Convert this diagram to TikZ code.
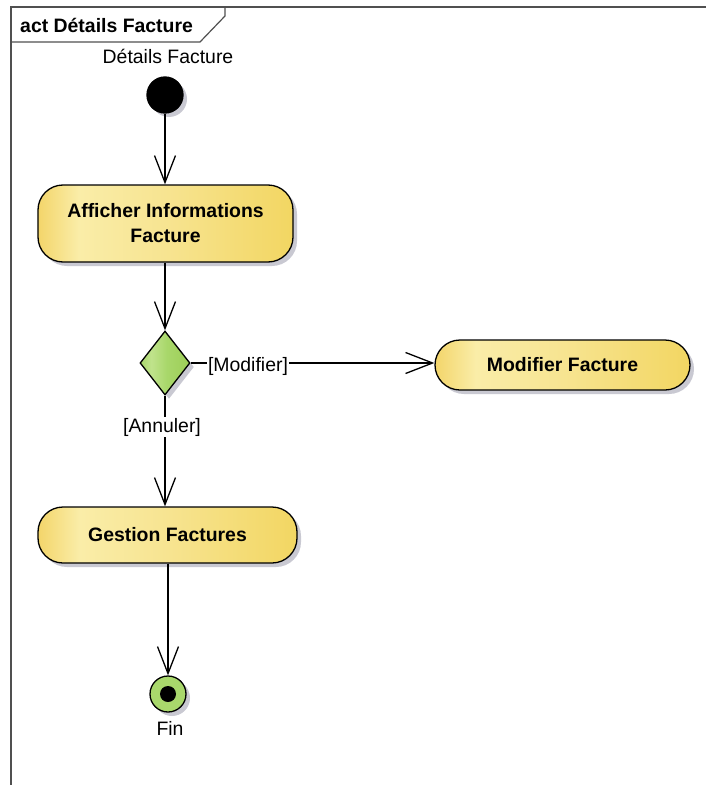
\documentclass[tikz,border=0pt]{standalone}
\usepackage{fontspec}
\setmainfont{Liberation Sans}
\usetikzlibrary{arrows.meta,shapes.geometric,shadows}

\definecolor{frameline}{HTML}{505050}
\definecolor{actEdge}{HTML}{F3D56A}
\definecolor{actLight}{HTML}{FAEDA8}
\definecolor{actMid}{HTML}{F7E491}
\definecolor{actRight}{HTML}{F2D662}
\definecolor{decLight}{HTML}{C0E38C}
\definecolor{decEdge}{HTML}{A8D76A}
\definecolor{decRight}{HTML}{9DCE57}
\definecolor{finGreen}{HTML}{A9D86C}
\definecolor{shadowgray}{HTML}{C9C9D2}

\pgfdeclarehorizontalshading{actionfill}{100bp}{color(0bp)=(actEdge); color(25bp)=(actEdge); color(33bp)=(actLight); color(50bp)=(actMid); color(75bp)=(actRight); color(100bp)=(actRight)}
\pgfdeclarehorizontalshading{decisionfill}{100bp}{color(0bp)=(decEdge); color(25bp)=(decEdge); color(36bp)=(decLight); color(52bp)=(decEdge); color(75bp)=(decRight); color(100bp)=(decRight)}

\newcommand\diafont{\fontsize{19.5}{25}\selectfont}

\begin{document}
\begin{tikzpicture}[x=1bp,y=-1bp,
  every node/.style={font=\diafont, inner sep=0pt},
  softshadow/.style={drop shadow={shadow xshift=4bp, shadow yshift=-4bp, fill=shadowgray, opacity=1}},
  action/.style={draw, line width=1.3bp, rounded corners=25bp, shading=actionfill,
    softshadow, font=\diafont\bfseries, align=center},
  decision/.style={diamond, draw, line width=1.3bp, shading=decisionfill, softshadow,
    minimum width=50bp, minimum height=64bp},
  initial/.style={circle, fill=black, draw=black, line width=1.3bp, softshadow, minimum size=36bp},
  final/.style={circle, fill=finGreen, draw=black, line width=1.3bp, softshadow, minimum size=36bp},
  flow/.style={draw=black, line width=1.3bp, -{Straight Barb[length=27bp, width=21bp, line width=1.3bp]}},
  guard/.style={fill=white, inner sep=1bp}
]
\useasboundingbox (0,0) rectangle (706,785);

% frame with its name tab
\draw[frameline, line width=1.2bp] (11,785) -- (11,7) -- (706,7);
\draw[frameline, line width=1.2bp] (11,42) -- (200,42) -- (225,16) -- (225,7);
\node[anchor=west, font=\diafont\bfseries] (title) at (20,25) {act Détails Facture};

% nodes
\node[initial] (start) at (165,95) {};
\node (startlbl) at (168,56) {Détails Facture};
\node[action, minimum width=255bp, minimum height=77bp] (aff) at (165.5,223.5) {Afficher Informations\\Facture};
\node[decision] (dec) at (165,363) {};
\node[action, minimum width=255bp, minimum height=50bp] (mod) at (562.5,365) {Modifier Facture};
\node[action, minimum width=259bp, minimum height=56bp] (gest) at (167.5,535) {Gestion Factures};
\node[final] (fin) at (168,694) {};
\node[circle, fill=black, minimum size=16bp] (findot) at (fin) {};
\node (finlbl) at (170,728) {Fin};

% control flows
\draw[flow] (start) -- (start |- aff.north);
\draw[flow] (aff.south -| dec.north) -- (dec.north);
\draw[flow] (dec.east) -- (dec.east -| mod.west);
\draw[flow] (dec.south) -- (dec.south |- gest.north);
\draw[flow] (gest.south -| fin.north) -- (fin.north);

% guards
\node[guard] (gmod) at (248,366) {[Modifier]};
\node[guard] (gann) at (162,427) {[Annuler]};
\end{tikzpicture}
\end{document}
